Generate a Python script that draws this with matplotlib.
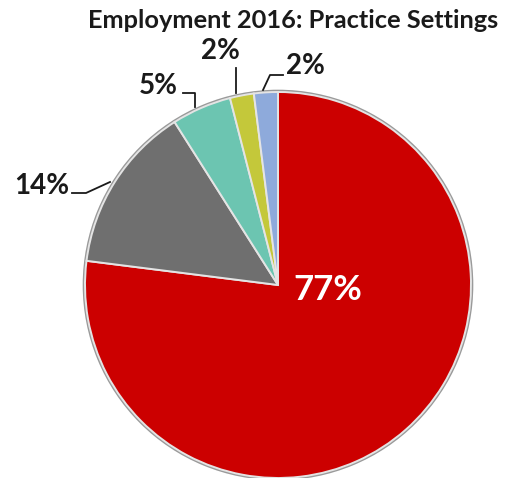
import matplotlib
matplotlib.use("Agg")
import matplotlib.pyplot as plt

plt.rcParams['font.family'] = ['Lato', 'DejaVu Sans']

settings = ["Practice A", "Practice B", "Practice C", "Practice D", "Practice E"]
shares = [77, 14, 5, 2, 2]
colors = ["#cc0000", "#6f6f6f", "#6cc5b1", "#c4c83a", "#8eaadb"]
title = "Employment 2016: Practice Settings"

W, H = 515, 478
CX, CY, R = 278, 285, 193


def px(x, y):
    # image pixel -> data coords (pie radius = 1)
    return (x - CX) / R, (CY - y) / R


fig = plt.figure(figsize=(W / 100, H / 100), dpi=100)
ax = fig.add_axes([0, 0, 1, 1])
ax.axis("off")

# soft shadow ring
ax.pie([1], radius=1.012, colors=["#9a9a9a"], startangle=90,
       wedgeprops=dict(linewidth=0))
wedges, _ = ax.pie(shares, colors=colors, startangle=90, counterclock=False,
                   radius=1.0,
                   wedgeprops=dict(edgecolor="#e4e4e4", linewidth=1.4))
ax.set_xlim(-CX / R, (W - CX) / R)
ax.set_ylim(-(H - CY) / R, CY / R)
ax.set_aspect("equal")

# labels: text position, leader line points (pixels)
labels = [
    ("77%", (328, 290), None, "white", 25),
    ("14%", (42, 186), [(72, 193), (86, 193), (110, 182)], "#1a1a1a", 20),
    ("5%", (158, 86), [(183, 93), (195, 93), (195, 107)], "#1a1a1a", 20),
    ("2%", (220, 51), [(236, 68), (236, 93)], "#1a1a1a", 20),
    ("2%", (305, 66), [(283, 75), (270, 75), (263, 90)], "#1a1a1a", 20),
]
for (txt, pos, line, col, fs) in labels:
    x, y = px(*pos)
    ax.text(x, y, txt, ha="center", va="center", fontsize=fs,
            fontweight="bold", color=col)
    if line:
        xs = [px(*p)[0] for p in line]
        ys = [px(*p)[1] for p in line]
        ax.plot(xs, ys, color="#1a1a1a", linewidth=1.3)

tx, ty = px(293, 20)
ax.text(tx, ty, title, ha="center", va="center", fontsize=18.3,
        fontweight="bold", color="#1a1a1a")

fig.savefig("out.png", dpi=100)
